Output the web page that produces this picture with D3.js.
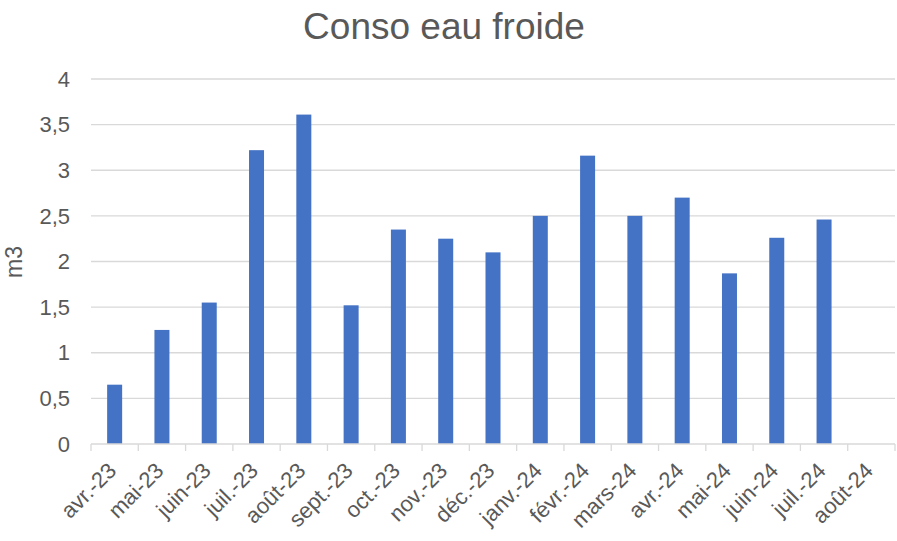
<!DOCTYPE html>
<html>
<head>
<meta charset="utf-8">
<script src="https://cdn.jsdelivr.net/npm/d3@7"></script>
<style>
  body { margin: 0; background: #fff; }
  svg text { font-family: "Liberation Sans", Arial, sans-serif; fill: #595959; }
</style>
</head>
<body>
<div id="canvas"></div>
<script>
const months = ["avr.-23", "mai-23", "juin-23", "juil.-23", "août-23", "sept.-23", "oct.-23", "nov.-23", "déc.-23",
  "janv.-24", "févr.-24", "mars-24", "avr.-24", "mai-24", "juin-24", "juil.-24", "août-24"];
const conso = [0.65, 1.25, 1.55, 3.22, 3.61, 1.52, 2.35, 2.25, 2.10, 2.50, 3.16, 2.50, 2.70, 1.87, 2.26, 2.46, 0];
const yTicks = [0, 0.5, 1, 1.5, 2, 2.5, 3, 3.5, 4];

const width = 897, height = 541;
const margin = { top: 79, left: 91, bottom: 97, right: 2 };
const iwidth = width - margin.left - margin.right;
const iheight = height - margin.top - margin.bottom;

const svg = d3.select("#canvas").append("svg")
  .attr("width", width)
  .attr("height", height);

svg.append("text")
  .attr("x", 444).attr("y", 39)
  .attr("text-anchor", "middle")
  .style("font-size", "37px")
  .text("Conso eau froide");

svg.append("text")
  .attr("transform", "translate(22,262) rotate(-90)")
  .attr("text-anchor", "middle")
  .style("font-size", "23px")
  .text("m3");

const g = svg.append("g").attr("transform", `translate(${margin.left},${margin.top})`);

const y = d3.scaleLinear().domain([0, 4]).range([iheight, 0]);
const x = d3.scaleBand().domain(months).range([0, iwidth]).paddingInner(0).paddingOuter(0);

const fmt = d => String(d).replace(".", ",");

// grid
g.selectAll(".grid").data(yTicks.filter(d => d > 0)).enter().append("line")
  .attr("x1", 0).attr("x2", iwidth)
  .attr("y1", d => y(d)).attr("y2", d => y(d))
  .style("stroke", "#d9d9d9").style("stroke-width", 1.3);

// y labels
g.selectAll(".ylab").data(yTicks).enter().append("text")
  .attr("x", -21).attr("y", d => y(d))
  .attr("dy", "0.35em")
  .attr("text-anchor", "end")
  .style("font-size", "22px")
  .text(fmt);

// bars
const bw = 15;
g.selectAll("rect").data(conso).enter().append("rect")
  .attr("x", (d, i) => x(months[i]) + x.bandwidth() / 2 - bw / 2)
  .attr("y", d => y(d))
  .attr("width", bw)
  .attr("height", d => iheight - y(d))
  .style("fill", "#4472c4");

// x axis
const xAxis = g.append("g").attr("transform", `translate(0,${iheight})`);
xAxis.append("line").attr("x1", 0).attr("x2", iwidth).attr("y1", 0).attr("y2", 0)
  .style("stroke", "#d9d9d9").style("stroke-width", 1.3);
xAxis.selectAll(".tick").data(months.concat(["end"])).enter().append("line")
  .attr("x1", (d, i) => i * x.step()).attr("x2", (d, i) => i * x.step())
  .attr("y1", 0).attr("y2", 7)
  .style("stroke", "#d9d9d9").style("stroke-width", 1.3);
xAxis.selectAll(".xlab").data(months).enter().append("text")
  .attr("transform", d => `translate(${x(d) + x.bandwidth() / 2 + 3},${28}) rotate(-45)`)
  .attr("text-anchor", "end")
  .style("font-size", "22px")
  .text(d => d);
</script>
</body>
</html>
